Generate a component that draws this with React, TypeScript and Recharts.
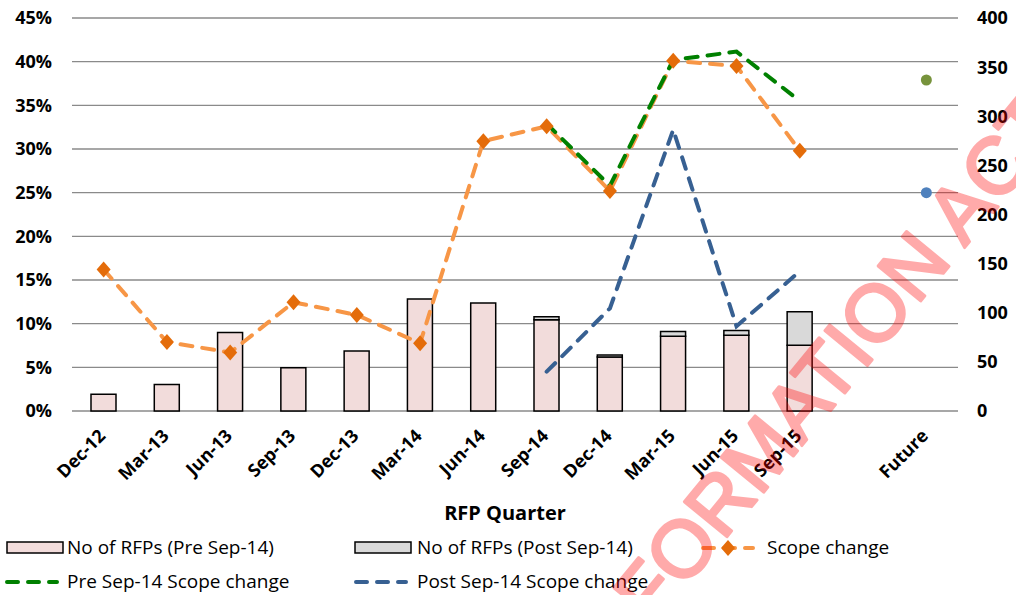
import { ComposedChart, Bar, Line, XAxis, YAxis, CartesianGrid } from 'recharts';

const quarters = ['Dec-12', 'Mar-13', 'Jun-13', 'Sep-13', 'Dec-13', 'Mar-14', 'Jun-14', 'Sep-14', 'Dec-14', 'Mar-15', 'Jun-15', 'Sep-15', '', 'Future'];
const rfpPre = [17, 27, 80, 44, 61, 114, 110, 93, 55, 76, 77, 67, null, null];
const rfpPost = [null, null, null, null, null, null, null, 3, 2, 5, 5, 34, null, null];
const scopeChange = [0.162, 0.079, 0.067, 0.1245, 0.11, 0.0775, 0.309, 0.326, 0.252, 0.401, 0.395, 0.298, null, null];
const preScope = [null, null, null, null, null, null, null, 0.329, 0.258, 0.402, 0.4115, 0.355, null, null];
const postScope = [null, null, null, null, null, null, null, 0.045, 0.1175, 0.322, 0.097, 0.16, null, null];
const futurePre = [null, null, null, null, null, null, null, null, null, null, null, null, null, 0.379];
const futurePost = [null, null, null, null, null, null, null, null, null, null, null, null, null, 0.25];

const pctTicks = [0, 0.05, 0.1, 0.15, 0.2, 0.25, 0.3, 0.35, 0.4, 0.45];
const countTicks = [0, 50, 100, 150, 200, 250, 300, 350, 400];
const boundaryTicks = [0, 1, 2, 3, 4, 5, 6, 7, 8, 9, 10, 11, 12, 13, 14];

const data = quarters.map((q, i) => ({
  name: q,
  pre: rfpPre[i],
  post: rfpPost[i],
  scope: scopeChange[i],
  preScope: preScope[i],
  postScope: postScope[i],
  futurePre: futurePre[i],
  futurePost: futurePost[i],
}));

const FONT = '"Open Sans", "DejaVu Sans", sans-serif';
const GRID = '#8a8a8a';

const XTick = (props: any) => {
  const { x, payload } = props;
  const ax = x + 3;
  const ay = 437;
  return (
    <text
      x={ax}
      y={ay}
      textAnchor="end"
      transform={`rotate(-45, ${ax}, ${ay})`}
      fontFamily={FONT}
      fontWeight="bold"
      fontSize={18}
      fill="#000"
    >
      {payload.value}
    </text>
  );
};

const Diamond = (props: any) => {
  const { cx, cy, value, index } = props;
  if (value == null || cx == null || cy == null) return <g key={index} />;
  return (
    <polygon
      key={index}
      points={`${cx},${cy - 8} ${cx + 7},${cy} ${cx},${cy + 8} ${cx - 7},${cy}`}
      fill="#E46C0A"
    />
  );
};

const App = () => {
  return (
    <div style={{ position: 'relative', width: 1016, height: 595, fontFamily: FONT, background: '#fff' }}>
      <style>{'body{margin:0}'}</style>
      <ComposedChart width={1016} height={595} data={data} margin={{ top: 18, right: 0, bottom: 104, left: 0 }}>
        <CartesianGrid yAxisId="pct" vertical={false} stroke={GRID} strokeWidth={1.3} />
        <XAxis
          xAxisId="bnd"
          type="number"
          domain={[0, 14]}
          ticks={boundaryTicks}
          allowDataOverflow
          height={0}
          tickFormatter={() => ''}
          tickSize={6}
          axisLine={{ stroke: GRID, strokeWidth: 1.3 }}
          tickLine={{ stroke: GRID, strokeWidth: 1.3 }}
        />
        <XAxis
          xAxisId="cat"
          dataKey="name"
          height={80}
          interval={0}
          axisLine={false}
          tickLine={false}
          tick={<XTick />}
        />
        <YAxis
          yAxisId="pct"
          domain={[0, 0.45]}
          ticks={pctTicks}
          width={72}
          axisLine={false}
          tickLine={false}
          tickMargin={14}
          tickFormatter={(v: number) => `${Math.round(v * 100)}%`}
          tick={{ fontFamily: FONT, fontWeight: 'bold', fontSize: 18, fill: '#000' }}
        />
        <YAxis
          yAxisId="cnt"
          orientation="right"
          domain={[0, 400]}
          ticks={countTicks}
          width={58}
          axisLine={false}
          tickLine={false}
          tickMargin={13}
          tick={{ fontFamily: FONT, fontWeight: 'bold', fontSize: 18, fill: '#000', textAnchor: 'start' }}
        />
        <Bar xAxisId="cat" yAxisId="cnt" dataKey="pre" stackId="rfp" barSize={25} fill="#F2DCDB" stroke="#000" strokeWidth={1.5} isAnimationActive={false} />
        <Bar xAxisId="cat" yAxisId="cnt" dataKey="post" stackId="rfp" barSize={25} fill="#D9D9D9" stroke="#000" strokeWidth={1.5} isAnimationActive={false} />
        <Line xAxisId="cat" yAxisId="pct" dataKey="scope" stroke="#F79646" strokeWidth={4} strokeDasharray="12 10" strokeLinecap="round" dot={<Diamond />} activeDot={false} isAnimationActive={false} />
        <Line xAxisId="cat" yAxisId="pct" dataKey="preScope" stroke="#008000" strokeWidth={4} strokeDasharray="12 10" strokeLinecap="round" dot={false} activeDot={false} isAnimationActive={false} />
        <Line xAxisId="cat" yAxisId="pct" dataKey="postScope" stroke="#376092" strokeWidth={4} strokeDasharray="12 10" strokeLinecap="round" dot={false} activeDot={false} isAnimationActive={false} />
        <Line xAxisId="cat" yAxisId="pct" dataKey="futurePre" stroke="none" dot={{ r: 5.5, fill: '#77933C', stroke: 'none' }} activeDot={false} isAnimationActive={false} />
        <Line xAxisId="cat" yAxisId="pct" dataKey="futurePost" stroke="none" dot={{ r: 5.5, fill: '#4F81BD', stroke: 'none' }} activeDot={false} isAnimationActive={false} />
      </ComposedChart>

      <svg width={1016} height={595} style={{ position: 'absolute', left: 0, top: 0, pointerEvents: 'none', overflow: 'hidden' }}>
        <text x={505} y={520} textAnchor="middle" fontFamily={FONT} fontWeight="bold" fontSize={20} fill="#000">RFP Quarter</text>

        <rect x={7} y={542} width={56} height={11} fill="#F2DCDB" stroke="#000" strokeWidth={1.5} />
        <text x={67} y={554} fontFamily={FONT} fontSize={19} fill="#000">No of RFPs (Pre Sep-14)</text>
        <rect x={355} y={542} width={56} height={11} fill="#D9D9D9" stroke="#000" strokeWidth={1.5} />
        <text x={417} y={554} fontFamily={FONT} fontSize={19} fill="#000">No of RFPs (Post Sep-14)</text>
        <line x1={703} y1={548} x2={753} y2={548} stroke="#F79646" strokeWidth={4} strokeDasharray="11 10" strokeLinecap="round" />
        <polygon points="728,540 735,548 728,556 721,548" fill="#E46C0A" />
        <text x={767} y={554} fontFamily={FONT} fontSize={19} fill="#000">Scope change</text>

        <line x1={7} y1={582} x2={57} y2={582} stroke="#008000" strokeWidth={4} strokeDasharray="11 10" strokeLinecap="round" />
        <text x={67} y={588} fontFamily={FONT} fontSize={19} fill="#000">Pre Sep-14 Scope change</text>
        <line x1={356} y1={582} x2={406} y2={582} stroke="#376092" strokeWidth={4} strokeDasharray="11 10" strokeLinecap="round" />
        <text x={417} y={588} fontFamily={FONT} fontSize={19} fill="#000">Post Sep-14 Scope change</text>

        <g opacity={0.33}>
          <text
            transform="translate(1066,124) rotate(-50.6)"
            textAnchor="end"
            fontFamily='"Liberation Sans", Arial, sans-serif'
            fontSize={80}
            fill="#ff0000"
            stroke="#ff0000"
            strokeWidth={3}
            strokeLinejoin="round"
          >
            INFORMATION ACT
          </text>
        </g>
      </svg>
    </div>
  );
};

export default App;
